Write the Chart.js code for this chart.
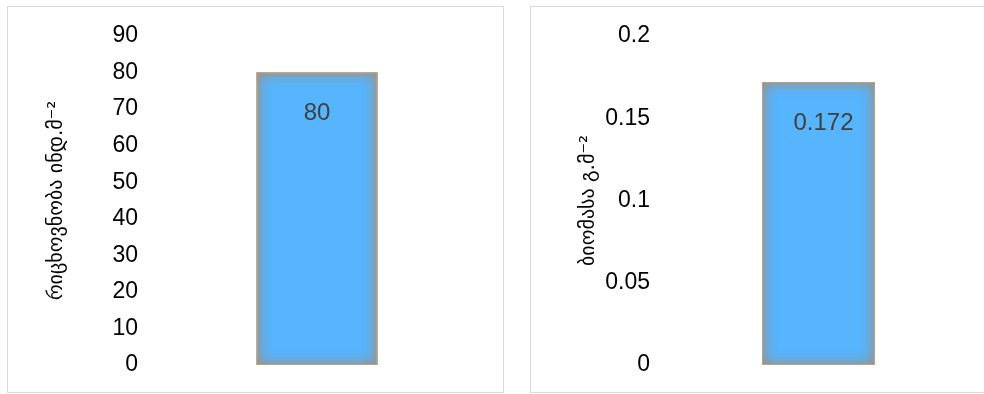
<!DOCTYPE html>
<html>
<head>
<meta charset="utf-8">
<script src="https://cdn.jsdelivr.net/npm/chart.js@4/dist/chart.umd.min.js"></script>
<style>
  html, body { margin: 0; padding: 0; background: #fff; overflow: hidden; width: 984px; height: 394px; }
  .box { position: absolute; top: 6px; height: 385px; border: 1px solid #D9D9D9; background: #fff; }
  #boxA { left: 7px; width: 495px; }
  #boxB { left: 530px; width: 480px; }
  canvas { position: absolute; top: 0; left: 0; }
</style>
</head>
<body>
<div class="box" id="boxA"><canvas id="c1" width="495" height="385"></canvas></div>
<div class="box" id="boxB"><canvas id="c2" width="454" height="385"></canvas></div>
<script>
// ---- data ----
const categoriesA = [""];
const abundanceValues = [80];
const abundanceTicks = [0, 10, 20, 30, 40, 50, 60, 70, 80, 90];
const abundanceTitle = "რიცხოვნობა ინდ.მ⁻²";

const categoriesB = [""];
const biomassValues = [0.172];
const biomassTicks = [0, 0.05, 0.1, 0.15, 0.2];
const biomassTitle = "ბიომასა გ.მ⁻²";

const FONT = "'Liberation Sans', Arial, 'DejaVu Sans', sans-serif";
const GEO_FONT = "'DejaVu Sans', 'Liberation Sans', sans-serif";

// inner glow + value label plugin
const barDecor = {
  id: 'barDecor',
  afterDatasetsDraw(chart, args, opts) {
    const ctx = chart.ctx;
    const meta = chart.getDatasetMeta(0);
    meta.data.forEach((bar, i) => {
      const p = bar.getProps(['x', 'y', 'base', 'width'], true);
      const left = p.x - p.width / 2, top = Math.min(p.y, p.base);
      const w = p.width, h = Math.abs(p.base - p.y);
      ctx.save();
      ctx.beginPath();
      ctx.rect(left, top, w, h);
      ctx.clip();
      // inner glow
      for (let k = 0; k < 2; k++) {
        ctx.beginPath();
        ctx.rect(left - 80, top - 80, w + 160, h + 160);
        ctx.rect(left, top, w, h);
        ctx.shadowColor = 'rgba(158,146,128,0.85)';
        ctx.shadowBlur = 14;
        ctx.fillStyle = 'rgba(158,146,128,1)';
        ctx.fill('evenodd');
      }
      ctx.shadowBlur = 0;
      ctx.strokeStyle = 'rgba(236,160,100,0.6)';
      ctx.lineWidth = 2;
      ctx.strokeRect(left, top, w, h);
      ctx.restore();
      // value label
      ctx.save();
      ctx.font = '24px ' + FONT;
      ctx.fillStyle = '#404040';
      ctx.textAlign = 'center';
      ctx.textBaseline = 'middle';
      const v = chart.data.datasets[0].data[i];
      ctx.fillText(String(v), p.x + (opts.dx || 0), p.y + (opts.dy || 41));
      ctx.restore();
    });
  }
};

function makeChart(id, labels, values, ticks, title, cfg) {
  return new Chart(document.getElementById(id), {
    type: 'bar',
    data: {
      labels: labels,
      datasets: [{
        data: values,
        backgroundColor: '#57B5FE',
        borderWidth: 0,
        barPercentage: cfg.barPct,
        categoryPercentage: 1
      }]
    },
    options: {
      responsive: false,
      animation: false,
      events: [],
      layout: { padding: { top: 29, bottom: 27, left: 0, right: cfg.padRight } },
      plugins: { legend: { display: false }, tooltip: { enabled: false }, barDecor: { dx: cfg.dx, dy: 41 } },
      scales: {
        x: { display: false },
        y: {
          min: ticks[0],
          max: ticks[ticks.length - 1],
          afterBuildTicks: (s) => { s.ticks = ticks.map(v => ({ value: v })); },
          afterFit: (s) => { s.width = cfg.axisWidth; },
          grid: { display: false, drawTicks: false },
          border: { display: false },
          ticks: {
            padding: 6,
            color: '#000',
            font: { family: FONT, size: 23 },
            callback: (v) => String(v)
          },
          title: {
            display: true,
            text: title,
            color: '#000',
            font: { family: GEO_FONT, size: 20 },
            padding: { top: cfg.titlePad, bottom: 0 }
          }
        }
      }
    },
    plugins: [barDecor]
  });
}

makeChart('c1', categoriesA, abundanceValues, abundanceTicks, abundanceTitle,
  { axisWidth: 136, padRight: 13, barPct: 0.349, titlePad: 37, dx: 0 });
makeChart('c2', categoriesB, biomassValues, biomassTicks, biomassTitle,
  { axisWidth: 125, padRight: 4, barPct: 0.348, titlePad: 46, dx: 5 });
</script>
</body>
</html>
